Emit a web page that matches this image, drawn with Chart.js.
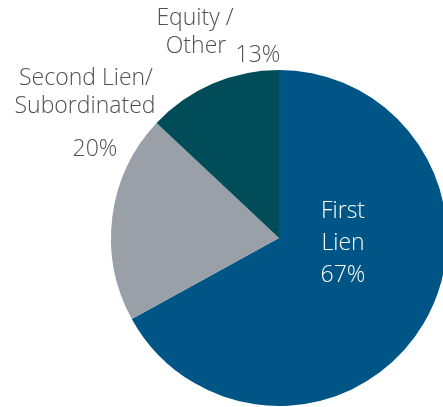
<!DOCTYPE html>
<html>
<head>
<meta charset="utf-8">
<script src="https://cdn.jsdelivr.net/npm/chart.js@4"></script>
<style>
  html, body { margin: 0; padding: 0; background: #fff; overflow: hidden; }
  #wrap { position: absolute; left: 0; top: 0; width: 558px; height: 476px; }
</style>
</head>
<body>
<div id="wrap"><canvas id="myChart"></canvas></div>
<script>
const categorias = ['First Lien', 'Second Lien/ Subordinated', 'Equity / Other'];
const valores = [67, 20, 13];
const cores = ['#005587', '#9aa0a7', '#004c59'];

// rótulos: linhas de texto, posição relativa ao centro do gráfico
const rotulos = [
    { linhas: ['First', 'Lien', '67%'], dx: [64, 64, 64], dy: [-20, 12, 44], cor: '#ffffff' },
    { linhas: ['Second Lien/', 'Subordinated', '20%'], dx: [-193, -194, -184], dy: [-153, -125, -82], cor: '#505050' },
    { linhas: ['Equity /', 'Other', '13%'], dx: [-84, -83, -21], dy: [-213, -185, -176], cor: '#505050' }
];

const rotulosPlugin = {
    id: 'rotulos',
    afterDraw(chart) {
        const ctx = chart.ctx;
        const area = chart.chartArea;
        const cx = (area.left + area.right) / 2;
        const cy = (area.top + area.bottom) / 2;
        ctx.save();
        ctx.font = '300 23px "Open Sans"';
        ctx.textAlign = 'center';
        ctx.textBaseline = 'alphabetic';
        rotulos.forEach(r => {
            ctx.fillStyle = r.cor;
            r.linhas.forEach((t, i) => {
                ctx.fillText(t, cx + r.dx[i], cy + r.dy[i]);
            });
        });
        ctx.restore();
    }
};

new Chart('myChart', {
    type: 'pie',
    data: {
        labels: categorias,
        datasets: [{
            data: valores,
            backgroundColor: cores,
            borderWidth: 0
        }]
    },
    options: {
        responsive: true,
        maintainAspectRatio: false,
        animation: false,
        layout: { padding: 70 },
        plugins: {
            legend: { display: false },
            tooltip: { enabled: false }
        }
    },
    plugins: [rotulosPlugin]
});
</script>
</body>
</html>
